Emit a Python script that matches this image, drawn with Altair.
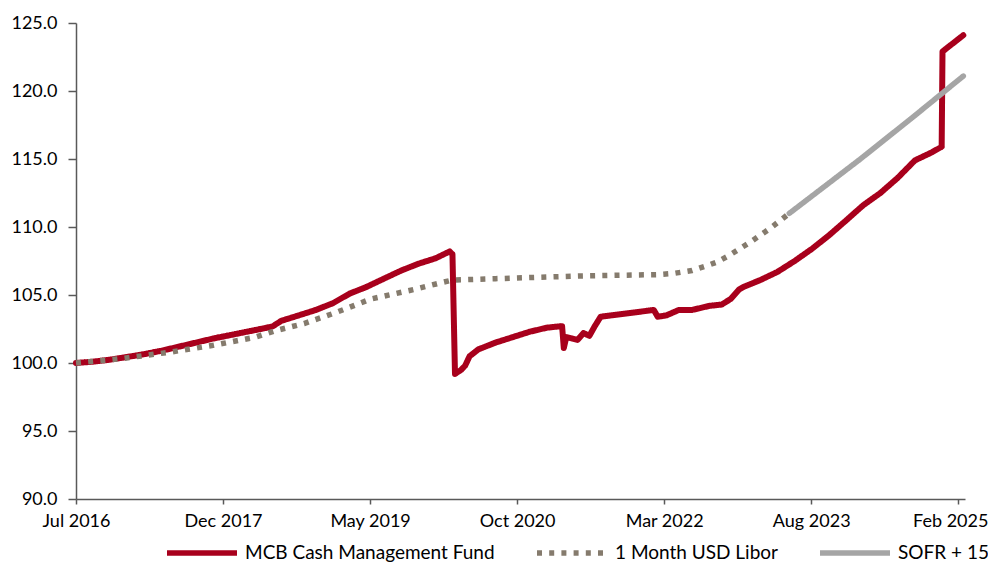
import altair as alt
import pandas as pd

# ---- data ----
mcb_dates = [
    "2016-07-01", "2016-09-01", "2016-11-01", "2017-01-01", "2017-03-01", "2017-05-01",
    "2017-07-01", "2017-09-01", "2017-11-01", "2018-01-01", "2018-03-01", "2018-05-01",
    "2018-06-01", "2018-07-01", "2018-09-01", "2018-11-01", "2019-01-01", "2019-03-01",
    "2019-05-01", "2019-07-01", "2019-09-01", "2019-11-01", "2020-01-01", "2020-02-20",
    "2020-03-01", "2020-03-10", "2020-04-01", "2020-04-15", "2020-05-01", "2020-06-01",
    "2020-08-01", "2020-10-01", "2020-12-01", "2021-02-01", "2021-03-20", "2021-03-26",
    "2021-04-01", "2021-04-10", "2021-05-01", "2021-05-20", "2021-06-10", "2021-07-01",
    "2021-07-20", "2021-08-10", "2021-09-15", "2021-12-01", "2022-02-15", "2022-03-01",
    "2022-04-01", "2022-05-15", "2022-07-01", "2022-09-01", "2022-10-15", "2022-11-15",
    "2022-12-15", "2023-01-01", "2023-03-01", "2023-05-01", "2023-07-01", "2023-09-01",
    "2023-11-01", "2024-01-01", "2024-03-01", "2024-05-01", "2024-07-01", "2024-09-01",
    "2024-11-01", "2024-12-05", "2024-12-08", "2024-12-20", "2025-02-20",
]
mcb_values = [
    100.0, 100.1, 100.25, 100.45, 100.65, 100.9,
    101.2, 101.5, 101.8, 102.05, 102.3, 102.55,
    102.7, 103.1, 103.5, 103.9, 104.4, 105.1,
    105.6, 106.2, 106.8, 107.3, 107.7, 108.2,
    108.0, 99.2, 99.5, 99.8, 100.5, 101.0,
    101.5, 101.9, 102.3, 102.6, 102.7, 102.7,
    101.1, 101.9, 101.8, 101.7, 102.2, 102.0,
    102.7, 103.4, 103.5, 103.7, 103.9, 103.4,
    103.5, 103.9, 103.9, 104.2, 104.3, 104.7,
    105.4, 105.6, 106.1, 106.7, 107.5, 108.4,
    109.4, 110.5, 111.6, 112.5, 113.6, 114.9,
    115.5, 115.9, 122.9, 123.1, 124.1,
]

libor_dates = [
    "2016-07-01", "2016-12-01", "2017-06-01", "2017-11-01", "2018-04-01", "2018-06-15",
    "2018-09-20", "2019-01-10", "2019-05-15", "2019-10-15", "2020-01-20", "2020-03-01",
    "2020-08-01", "2021-06-01", "2022-03-01", "2022-05-01", "2022-07-01", "2022-08-15",
    "2022-09-25", "2022-11-05", "2023-01-25", "2023-04-05", "2023-06-12",
]
libor_values = [
    100.0, 100.3, 100.8, 101.3, 101.9, 102.4,
    102.9, 103.7, 104.7, 105.4, 105.9, 106.1,
    106.2, 106.4, 106.5, 106.6, 106.8, 107.1,
    107.4, 107.85, 108.9, 109.9, 111.0,
]

sofr_dates = ["2023-06-12", "2024-02-20", "2024-09-01", "2025-02-20"]
sofr_values = [111.0, 115.0, 118.2, 121.1]

series_names = ["MCB Cash Management Fund", "1 Month USD Libor", "SOFR + 15"]
series_colors = ["#A8001C", "#857B6D", "#A5A5A5"]
series_dashes = [[1, 0], [5, 7.2], [1, 0]]
series_caps = ["round", "butt", "round"]
series_widths = [6, 5.5, 5.5]

y_ticks = [90, 95, 100, 105, 110, 115, 120, 125]
x_tick_dates = [(2016, 7, 1), (2017, 12, 6), (2019, 5, 13), (2020, 10, 17),
                (2022, 3, 24), (2023, 8, 29), (2025, 2, 2)]
x_domain = [(2016, 7, 1), (2025, 2, 26)]

# ---- build table ----
rows = []
for name, dates, vals in zip(series_names,
                             [mcb_dates, libor_dates, sofr_dates],
                             [mcb_values, libor_values, sofr_values]):
    for d, v in zip(dates, vals):
        rows.append({"series": name, "date": d, "value": v})
df = pd.DataFrame(rows)


def dt(t):
    return alt.DateTime(year=t[0], month=t[1], date=t[2], utc=True)


FONT = "Lato"
LAST_TEST = "datum.index > 0.95 || datum.value > 1730000000000"

legend = alt.Legend(
    title=None, orient="none", legendX=88, legendY=492, direction="horizontal",
    symbolType="stroke", symbolSize=4900, symbolStrokeWidth=5.5,
    labelFont=FONT, labelFontSize=19, labelColor="black", labelOffset=5,
    labelLimit=500, columnPadding=31, padding=0,
)


def build(axis_extra):
    x = alt.X("date:T", title=None,
              scale=alt.Scale(type="utc", domain=[dt(t) for t in x_domain]),
              axis=alt.Axis(values=[dt(t) for t in x_tick_dates], format="%b %Y",
                            tickSize=5, labelPadding=8, labelFlush=False, **axis_extra))
    y = alt.Y("value:Q", title=None,
              scale=alt.Scale(domain=[90, 125], nice=False, zero=False),
              axis=alt.Axis(values=y_ticks, format=".1f", tickSize=8, labelPadding=11))
    color = alt.Color("series:N", scale=alt.Scale(domain=series_names, range=series_colors),
                      legend=legend)
    dash = alt.StrokeDash("series:N", scale=alt.Scale(domain=series_names, range=series_dashes),
                          legend=legend)
    layers = []
    for n, w, cap in zip(series_names, series_widths, series_caps):
        layers.append(
            alt.Chart(df).transform_filter(alt.datum.series == n)
            .mark_line(strokeWidth=w, strokeCap=cap, strokeJoin="round")
            .encode(x=x, y=y, color=color, strokeDash=dash)
        )
    return alt.layer(*layers).properties(
        width=889, height=476,
        autosize=alt.AutoSizeParams(type="none"),
        padding={"left": 68, "top": 15, "right": 23, "bottom": 66},
    ).configure_view(stroke=None).configure_axis(
        grid=False, domainColor="#595959", tickColor="#595959", domainWidth=1.5,
        tickWidth=1.5, labelFont=FONT, labelFontSize=18, labelColor="black",
    )


candidates = [
    {"labelOffset": {"condition": {"test": LAST_TEST, "value": -8}, "value": 0}},
    {"labelAlign": {"condition": {"test": LAST_TEST, "value": "right"}, "value": "center"},
     "labelFontSize": {"condition": {"test": LAST_TEST, "value": 17}, "value": 18}},
    {},
]
chart = None
for extra in candidates:
    try:
        c = build(extra)
        c.to_dict()
        chart = c
        break
    except Exception:
        continue

chart.save("out.html", embed_options={"renderer": "svg", "actions": False})
